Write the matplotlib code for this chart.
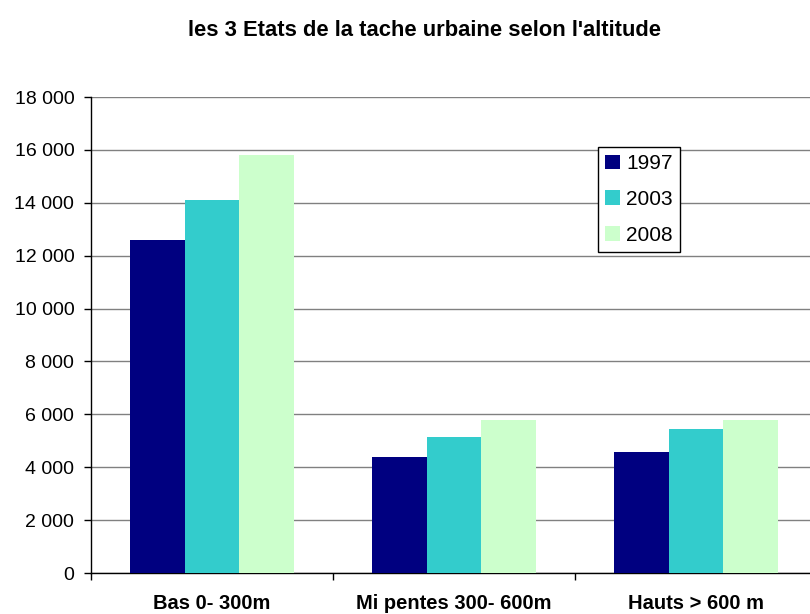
import numpy as np
from matplotlib import pyplot as plt

plt.rcParams['font.family'] = ['Liberation Sans', 'DejaVu Sans']

# Data
categories = ['Bas 0- 300m', 'Mi pentes 300- 600m', 'Hauts > 600 m']
years = ['1997', '2003', '2008']
v1997 = [12600, 4400, 4580]
v2003 = [14100, 5150, 5450]
v2008 = [15800, 5800, 5790]
colors = ['#000080', '#33CCCC', '#CCFFCC']

fig = plt.figure(figsize=(8.1, 6.14), dpi=100)
ax = fig.add_axes([91 / 810, 1 - 573 / 614, 726 / 810, 476 / 614])

x = np.arange(len(categories)) + 0.5
w = 0.225
for i, (vals, yr) in enumerate(zip([v1997, v2003, v2008], years)):
    ax.bar(x + (i - 1) * w, vals, width=w, color=colors[i], label=yr, zorder=3)

ax.set_xlim(0, 3)
ax.set_ylim(0, 18000)
yt = np.arange(0, 18001, 2000)
ax.set_yticks(yt)
ax.set_yticklabels([f"{v:,}".replace(",", " ") for v in yt])
ax.yaxis.grid(True, color='#808080', linewidth=1.0, zorder=0)

ax.set_xticks([0, 1, 2, 3])
ax.set_xticklabels([])
ax.set_xticks(x, minor=True)
ax.set_xticklabels(categories, minor=True, fontsize=14.5, fontweight='bold')
ax.tick_params(axis='x', which='minor', length=0, pad=15)
ax.tick_params(axis='x', which='major', length=5, width=1, direction='out')
ax.tick_params(axis='y', length=5, width=1, direction='out', pad=7, labelsize=14)

for s in ['top', 'right']:
    ax.spines[s].set_visible(False)
for s in ['left', 'bottom']:
    ax.spines[s].set_color('black')
    ax.spines[s].set_linewidth(1.0)

fig.text(425 / 810, 1 - 31 / 614, "les 3 Etats de la tache urbaine selon l'altitude",
         ha='center', va='center', fontsize=15.8, fontweight='bold')

leg = ax.legend(loc='upper left', bbox_to_anchor=(598 / 810, 1 - 147 / 614),
                bbox_transform=fig.transFigure, fontsize=15, frameon=True,
                fancybox=False, edgecolor='black', framealpha=1,
                handlelength=0.7, handleheight=0.7, handletextpad=0.3,
                labelspacing=0.8, borderpad=0.35, borderaxespad=0)
leg.get_frame().set_linewidth(1.0)

plt.savefig('out.png', dpi=100)
